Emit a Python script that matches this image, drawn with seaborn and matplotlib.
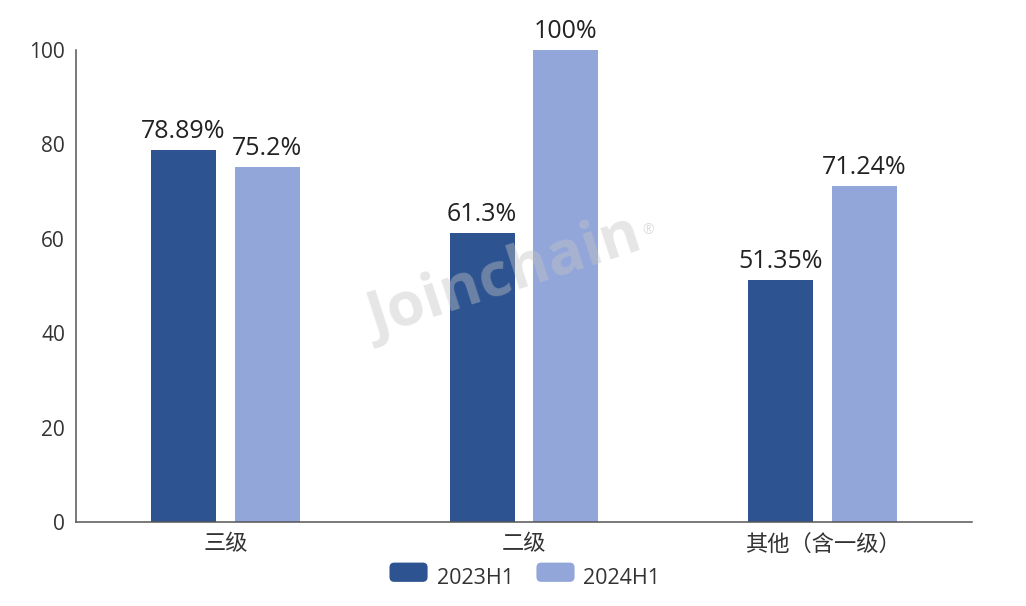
import seaborn as sns
import matplotlib.pyplot as plt
import pandas as pd
from matplotlib.patches import FancyBboxPatch
from matplotlib.legend_handler import HandlerPatch

categories = ["三级", "二级", "其他（含一级）"]
series = ["2023H1", "2024H1"]
v2023 = [78.89, 61.3, 51.35]
v2024 = [75.2, 100, 71.24]
colors = ["#2d5491", "#93a6da"]

df = pd.DataFrame({
    "level": categories * 2,
    "period": [series[0]] * 3 + [series[1]] * 3,
    "value": v2023 + v2024,
})

sns.set_style("white")
plt.rcParams["font.family"] = ["Open Sans", "Noto Sans CJK SC", "DejaVu Sans"]

fig = plt.figure(figsize=(10.26, 6.06), dpi=100)
ax = fig.add_axes([0.0741, 0.1386, 0.8733, 0.7789])

sns.barplot(ax=ax, data=df, x="level", y="value", hue="period",
            palette=colors, saturation=1, width=0.56, gap=0.225,
            linewidth=0, legend=False)

for cont in ax.containers:
    ax.bar_label(cont, labels=[f"{b.get_height():g}%" for b in cont],
                 padding=4, fontsize=18, color="#222222")

ax.set_ylim(0, 100)
ax.set_xlim(-0.5, 2.5)
ax.set_yticks(range(0, 101, 20))
ax.set_xlabel("")
ax.set_ylabel("")
sns.despine(ax=ax)
for s in ["left", "bottom"]:
    ax.spines[s].set_color("#555555")
    ax.spines[s].set_linewidth(1.1)
ax.tick_params(axis="y", length=5, width=1, color="#555555",
               labelsize=15, labelcolor="#333333", pad=3)
ax.tick_params(axis="x", which="major", length=0, labelsize=16,
               labelcolor="#333333", pad=9)
ax.set_xticks([-0.5, 0.5, 1.5, 2.5], minor=True)
ax.tick_params(axis="x", which="minor", length=6, width=1, color="#555555")

# watermark
fig.text(0.492, 0.54, "Joinchain", fontsize=44, fontweight="bold",
         family="Open Sans", color="#c4c4c4", alpha=0.42, rotation=18,
         ha="center", va="center", zorder=10)
fig.text(0.632, 0.62, "®", fontsize=10, color="#c4c4c4", alpha=0.6,
         ha="center", va="center", zorder=10)


class RoundHandler(HandlerPatch):
    def create_artists(self, legend, orig, xd, yd, w, h, fontsize, trans):
        p = FancyBboxPatch((xd + 1, yd), w - 2, h,
                           boxstyle="round,pad=0,rounding_size=3.5",
                           facecolor=orig.get_facecolor(), edgecolor="none",
                           transform=trans)
        return [p]


handles = [plt.Rectangle((0, 0), 1, 1, facecolor=c) for c in colors]
fig.legend(handles, series, loc="center", bbox_to_anchor=(0.511, 0.046),
           ncol=2, frameon=False, fontsize=15.5, labelcolor="#333333",
           handlelength=1.9, handleheight=1.0, handletextpad=0.35,
           columnspacing=1.0,
           handler_map={plt.Rectangle: RoundHandler()})

fig.savefig("out.png", dpi=100)
